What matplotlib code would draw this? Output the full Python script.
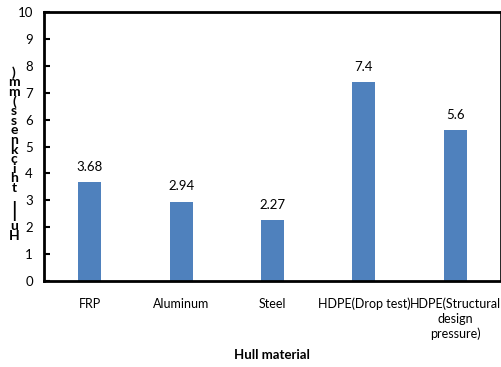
import matplotlib.pyplot as plt

materials = ["FRP", "Aluminum", "Steel", "HDPE(Drop test)", "HDPE(Structural\ndesign\npressure)"]
thickness = [3.68, 2.94, 2.27, 7.4, 5.6]
value_labels = ["3.68", "2.94", "2.27", "7.4", "5.6"]
y_ticks = list(range(0, 11))

plt.rcParams['font.family'] = ['Lato', 'DejaVu Sans']

W, H = 502, 367
fig = plt.figure(figsize=(W / 100, H / 100), dpi=100)
ax = fig.add_axes([44 / W, 1 - 281 / H, 457 / W, 269 / H])

x = list(range(len(materials)))
ax.bar(x, thickness, width=0.25, color='#4F81BD')
for xi, v, lab in zip(x, thickness, value_labels):
    ax.text(xi, v + 0.35, lab, ha='center', va='bottom', fontsize=9.5)

ax.set_xlim(-0.5, len(materials) - 0.5)
ax.set_ylim(0, 10)
ax.set_yticks(y_ticks)
ax.set_yticklabels([str(t) for t in y_ticks], fontsize=9.5)
ax.tick_params(axis='y', direction='in', length=4, width=1.5, pad=8)
ax.set_xticks(x)
ax.set_xticklabels(materials, fontsize=9, va='top', linespacing=1.25)
ax.tick_params(axis='x', length=0, pad=12)

for side in ['left', 'bottom', 'top']:
    ax.spines[side].set_linewidth(2)
ax.spines['right'].set_linewidth(1.2)

fig.text(272 / W, 1 - 355 / H, "Hull material", ha='center', va='center',
         fontsize=9.5, fontweight='bold')

# y label: characters stacked upward from the bottom
label = "Hull thickness(mm)"
y0 = 236
step = 9.6
for i, ch in enumerate(label):
    fig.text(14 / W, 1 - (y0 - i * step) / H, ch, ha='center', va='center',
             fontsize=10, fontweight='bold')

fig.savefig("out.png", dpi=100)
